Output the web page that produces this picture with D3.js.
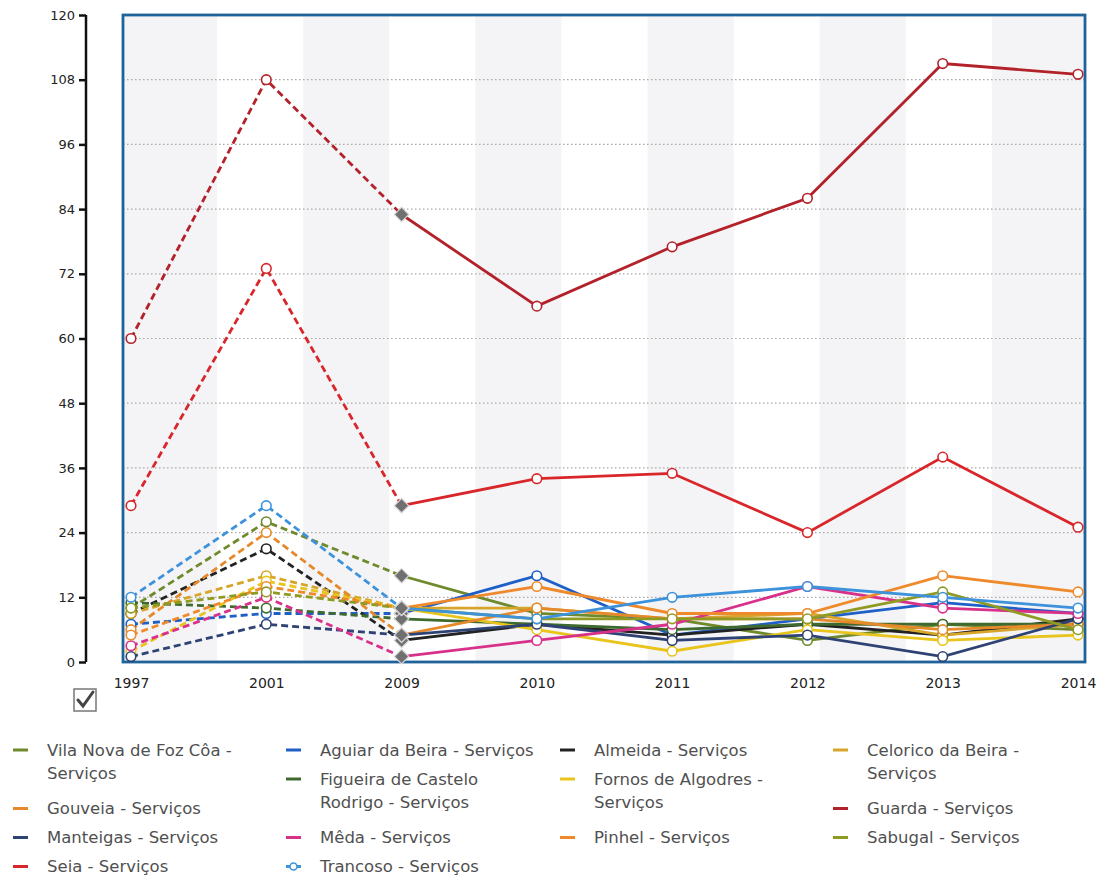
<!DOCTYPE html>
<html>
<head>
<meta charset="utf-8">
<script src="https://cdn.jsdelivr.net/npm/d3@7"></script>
<style>
  html, body { margin: 0; padding: 0; background: #ffffff; }
  svg { display: block; }
</style>
</head>
<body>
<svg id="chart" width="1101" height="875"></svg>
<script>
// Years on the horizontal axis
const years = ["1997", "2001", "2009", "2010", "2011", "2012", "2013", "2014"];
const yTickValues = [0, 12, 24, 36, 48, 60, 72, 84, 96, 108, 120];

// Series values, one array per municipality (Serviços)
const vilaNovaDeFozCoa   = [10, 26, 16, 9, 8, 4, 7, 6];
const aguiarDaBeira      = [7, 9, 9, 16, 5, 8, 11, 9];
const almeida            = [9, 21, 4, 7, 5, 7, 5, 8];
const celoricoDaBeira    = [9, 16, 10, 10, 8, 9, 5, 7];
const figueiraCRodrigo   = [11, 10, 8, 7, 6, 7, 7, 7];
const fornosDeAlgodres   = [2, 15, 10, 6, 2, 6, 4, 5];
const gouveia            = [6, 24, 5, 10, 8, 8, 6, 7];
const guarda             = [60, 108, 83, 66, 77, 86, 111, 109];
const manteigas          = [1, 7, 5, 7, 4, 5, 1, 8];
const meda               = [3, 12, 1, 4, 7, 14, 10, 9];
const pinhel             = [5, 14, 10, 14, 9, 9, 16, 13];
const sabugal            = [10, 13, 10, 8, 8, 8, 13, 6];
const seia               = [29, 73, 29, 34, 35, 24, 38, 25];
const trancoso           = [12, 29, 10, 8, 12, 14, 12, 10];

const seriesNames = [
  "Vila Nova de Foz Côa - Serviços", "Aguiar da Beira - Serviços", "Almeida - Serviços",
  "Celorico da Beira - Serviços", "Figueira de Castelo Rodrigo - Serviços",
  "Fornos de Algodres - Serviços", "Gouveia - Serviços", "Guarda - Serviços",
  "Manteigas - Serviços", "Mêda - Serviços", "Pinhel - Serviços", "Sabugal - Serviços",
  "Seia - Serviços", "Trancoso - Serviços"
];
// Legend text split into wrapped lines
const legendLines = [
  ["Vila Nova de Foz Côa -", "Serviços"], ["Aguiar da Beira - Serviços"], ["Almeida - Serviços"],
  ["Celorico da Beira -", "Serviços"], ["Figueira de Castelo", "Rodrigo - Serviços"],
  ["Fornos de Algodres -", "Serviços"], ["Gouveia - Serviços"], ["Guarda - Serviços"],
  ["Manteigas - Serviços"], ["Mêda - Serviços"], ["Pinhel - Serviços"], ["Sabugal - Serviços"],
  ["Seia - Serviços"], ["Trancoso - Serviços"]
];
const seriesColors = [
  "#6f8a2c", "#1f5fc8", "#222222", "#d6a52a", "#3f6a2e", "#e8c41c", "#e5892b",
  "#b3222a", "#2e4274", "#d8318a", "#ef8a2c", "#8e9a22", "#d8262a", "#3d92dc"
];
const seriesValues = [
  vilaNovaDeFozCoa, aguiarDaBeira, almeida, celoricoDaBeira, figueiraCRodrigo,
  fornosDeAlgodres, gouveia, guarda, manteigas, meda, pinhel, sabugal, seia, trancoso
];
// Points up to this year are estimates (dashed); the marker there is a diamond
const dashedUntil = "2009";

const series = seriesNames.map((name, i) => ({
  name, lines: legendLines[i], color: seriesColors[i],
  values: years.map((yr, j) => ({ year: yr, value: seriesValues[i][j] }))
}));

// Layout
const frame = { left: 123, right: 1085, top: 15, bottom: 662 };
const axisX = 86;

const svg = d3.select("#chart");

const x = d3.scalePoint().domain(years).range([131, 1078]);
const y = d3.scaleLinear().domain([0, 120]).range([frame.bottom, frame.top]);

// Alternating vertical background bands
const x0 = x(years[0]), x1 = x(years[years.length - 1]);
const nBands = 11;
const step = (x1 - x0) / nBands;
const bands = d3.range(nBands).map(k => {
  let a = x0 + k * step, b = x0 + (k + 1) * step;
  if (k === 0) a = frame.left;
  if (k === nBands - 1) b = frame.right;
  return { a, b, shade: k % 2 === 0 };
});
svg.append("g").selectAll("rect").data(bands.filter(d => d.shade)).join("rect")
  .attr("x", d => d.a).attr("y", frame.top)
  .attr("width", d => d.b - d.a).attr("height", frame.bottom - frame.top)
  .attr("fill", "#f4f4f6");

// Dotted horizontal grid lines
svg.append("g").selectAll("line")
  .data(yTickValues.filter(v => v > 0 && v < 120)).join("line")
  .attr("x1", frame.left).attr("x2", frame.right)
  .attr("y1", d => y(d)).attr("y2", d => y(d))
  .attr("stroke", "#a8a8a8").attr("stroke-width", 1.2)
  .attr("stroke-dasharray", "1.5,2.5");

// Plot frame
svg.append("rect")
  .attr("x", frame.left).attr("y", frame.top)
  .attr("width", frame.right - frame.left).attr("height", frame.bottom - frame.top)
  .attr("fill", "none").attr("stroke", "#1f6399").attr("stroke-width", 2.8);

// Vertical axis
const yAxis = d3.axisLeft(y).tickValues(yTickValues).tickSize(7).tickPadding(4)
  .tickFormat(d3.format("d"));
const gy = svg.append("g").attr("transform", `translate(${axisX},0)`).call(yAxis);
gy.select(".domain").attr("stroke", "#111").attr("stroke-width", 2.5)
  .attr("d", `M0,${frame.top}V${frame.bottom}`);
gy.selectAll(".tick line").attr("stroke", "#111").attr("stroke-width", 2.5);
gy.selectAll(".tick text").attr("font-family", "DejaVu Sans, Verdana, sans-serif")
  .attr("font-size", 13).attr("fill", "#222");

// Horizontal axis labels
const xAxis = d3.axisBottom(x).tickSize(0).tickPadding(0);
const gx = svg.append("g").attr("transform", `translate(0,${frame.bottom + 16})`).call(xAxis);
gx.select(".domain").remove();
gx.selectAll(".tick text").attr("font-family", "DejaVu Sans, Verdana, sans-serif")
  .attr("font-size", 14).attr("fill", "#222");

// Check box under the axis
const cb = svg.append("g").attr("transform", "translate(74,689)");
cb.append("rect").attr("width", 22).attr("height", 22).attr("fill", "#fff")
  .attr("stroke", "#777").attr("stroke-width", 1.5);
cb.append("path").attr("d", "M4,11 L9,17 L19,3").attr("fill", "none")
  .attr("stroke", "#444").attr("stroke-width", 3).attr("stroke-linecap", "round");

// Lines
const line = d3.line().x(d => x(d.year)).y(d => y(d.value));
const cut = years.indexOf(dashedUntil);
const gLines = svg.append("g");
series.forEach(s => {
  gLines.append("path").attr("d", line(s.values.slice(0, cut + 1)))
    .attr("fill", "none").attr("stroke", s.color).attr("stroke-width", 2.8)
    .attr("stroke-dasharray", "7,4");
  gLines.append("path").attr("d", line(s.values.slice(cut)))
    .attr("fill", "none").attr("stroke", s.color).attr("stroke-width", 2.8);
});

// Markers: circles, rotated squares (diamonds) at the last estimated year
const gMarks = svg.append("g");
series.forEach(s => {
  gMarks.selectAll(null).data(s.values.filter(d => d.year !== dashedUntil)).join("circle")
    .attr("cx", d => x(d.year)).attr("cy", d => y(d.value)).attr("r", 4.8)
    .attr("fill", "#fff").attr("stroke", s.color).attr("stroke-width", 1.6);
});
const diamond = d3.symbol().type(d3.symbolSquare).size(105);
series.forEach(s => {
  gMarks.selectAll(null).data(s.values.filter(d => d.year === dashedUntil)).join("path")
    .attr("d", diamond)
    .attr("transform", d => `translate(${x(d.year)},${y(d.value)}) rotate(45)`)
    .attr("fill", "#707070").attr("stroke", "#d6d6d6").attr("stroke-width", 1.2);
});

// Legend laid out as floating boxes in four columns
const colX = [47, 320, 594, 867];
const lineH = 23, oneRowH = 29, twoRowH = 58.5;
const legendTop = 750;
const colBottom = [0, 0, 0, 0];
let cursor = 0;
const placed = series.map(s => {
  const h = s.lines.length > 1 ? twoRowH : oneRowH;
  let top = cursor, col = -1;
  while (col < 0) {
    col = colBottom.findIndex(b => b <= top + 0.01);
    if (col < 0) top = d3.min(colBottom.filter(b => b > top));
  }
  colBottom[col] = top + h;
  cursor = top;
  return { s, col, top };
});
const gLeg = svg.append("g").attr("font-family", "DejaVu Sans, Verdana, sans-serif")
  .attr("font-size", 16.5).attr("fill", "#505050");
placed.forEach(p => {
  const tx = colX[p.col], ty = legendTop + p.top;
  const g = gLeg.append("g");
  g.append("line").attr("x1", tx - 34).attr("x2", tx - 19)
    .attr("y1", ty).attr("y2", ty).attr("stroke", p.s.color).attr("stroke-width", 3);
  if (p.s.name.startsWith("Trancoso")) {
    g.append("circle").attr("cx", tx - 26.5).attr("cy", ty).attr("r", 3.5)
      .attr("fill", "#fff").attr("stroke", p.s.color).attr("stroke-width", 1.5);
  }
  p.s.lines.forEach((t, k) => {
    g.append("text").attr("x", tx).attr("y", ty + k * lineH).attr("dy", "0.35em").text(t);
  });
});
</script>
</body>
</html>
